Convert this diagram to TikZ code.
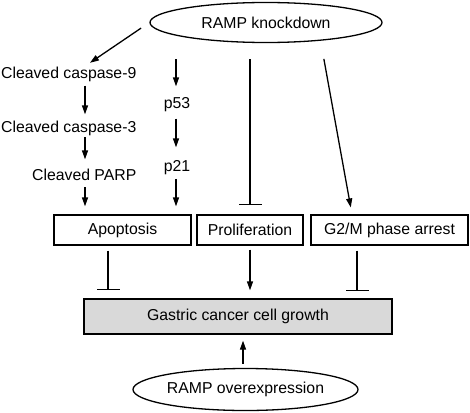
\documentclass[tikz,border=0pt]{standalone}
\usepackage{fontspec}
\setmainfont{Liberation Sans}
\usetikzlibrary{arrows.meta,shapes.geometric}

\begin{document}
\begin{tikzpicture}[
        x=1pt, y=-1pt,
        font=\fontsize{15.8}{19}\selectfont,
        every path/.style={line width=1.3pt},
        label/.style={inner sep=0pt, text height=11.5pt, text depth=3.3pt},
        box/.style={draw, minimum height=30pt, inner sep=0pt},
        oval/.style={draw, ellipse, inner sep=0pt},
        flow/.style={-{Triangle[length=9pt,width=6pt]}},
        block/.style={-{Bar[width=23pt,line width=1.3pt]}},
        % draw=red, every node/.append style={draw=red}
      ]
      \useasboundingbox (0,0) rectangle (470,412);

      \node[oval, minimum width=232pt, minimum height=40pt] (kd) at (266,22.5) {RAMP knockdown};
      \node[oval, minimum width=225pt, minimum height=42pt] (oe) at (245.5,389.5) {RAMP overexpression};

      \node[label, anchor=base east] (casp9) at (137,78.3) {Cleaved caspase-9};
      \node[label, anchor=base east] (casp3) at (137,132) {Cleaved caspase-3};
      \node[label, anchor=base east] (parp) at (137,180) {Cleaved PARP};
      \node[label, anchor=base] (p53) at (177,108) {p53};
      \node[label, anchor=base] (p21) at (177,171) {p21};

      \node[box, minimum width=137pt] (apop) at (122.5,230) {Apoptosis};
      \node[box, minimum width=106pt] (prolif) at (250,230) {Proliferation};
      \node[box, minimum width=157pt] (arrest) at (389.5,230) {G2/M phase arrest};
      \node[box, minimum width=308pt, minimum height=35pt, fill=gray!30] (growth) at (238,316.5) {Gastric cancer cell growth};

      \coordinate (colA) at (85,0);
      \coordinate (colB) at (176,0);
      \coordinate (colT) at (108,0);
      \coordinate (colG) at (357,0);
      \coordinate (colO) at (243,0);

      % knockdown branches
      \draw[flow, shorten <=10pt, shorten >=6pt] (kd.west) -- (casp9.north -| colA);
      \draw[flow, shorten <=16pt, shorten >=9.5pt] (kd.south -| colB) -- (p53.north -| colB);
      \draw[block, shorten <=16pt, shorten >=9pt] (kd.south -| prolif.north) -- (prolif.north);
      \draw[flow, shorten <=16pt, shorten >=7pt] ([xshift=55pt]kd.south) -- ([xshift=-37.5pt]arrest.north);

      % caspase cascade
      \draw[flow, shorten <=3.4pt, shorten >=5.5pt] (casp9.south -| colA) -- (casp3.north -| colA);
      \draw[flow, shorten <=1.4pt, shorten >=8.5pt] (casp3.south -| colA) -- (parp.north -| colA);
      \draw[flow, shorten <=3.4pt, shorten >=8pt] (parp.south -| colA) -- (apop.north -| colA);

      % p53 / p21
      \draw[flow, shorten <=6.7pt, shorten >=11.5pt] (p53.south -| colB) -- (p21.north -| colB);
      \draw[flow, shorten <=4pt, shorten >=8pt] (p21.south -| colB) -- (apop.north -| colB);

      % to cell growth
      \draw[block, shorten <=5pt, shorten >=8pt] (apop.south -| colT) -- (growth.north -| colT);
      \draw[flow, shorten <=4pt, shorten >=8pt] (prolif.south) -- (prolif.south |- growth.north);
      \draw[block, shorten <=5pt, shorten >=7pt] (arrest.south -| colG) -- (growth.north -| colG);
      \draw[flow, shorten <=4pt, shorten >=6pt] (oe.north -| colO) -- (growth.south -| colO);
    \end{tikzpicture}
\end{document}
